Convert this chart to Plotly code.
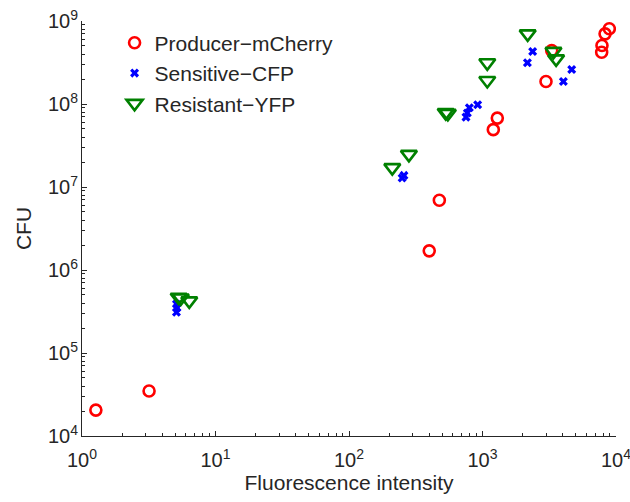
import plotly.graph_objects as go

# Producer-mCherry
prod_x = [1.27, 3.18, 399, 475, 1205, 1291, 2990, 3300, 7810, 7850, 8280, 8910]
prod_y = [2.05e4, 3.48e4, 1.70e6, 6.92e6, 4.91e7, 6.76e7, 1.87e8, 4.4e8, 4.2e8, 5.07e8, 7.0e8, 8.06e8]

# Sensitive-CFP
sens_x = [5.1, 5.15, 5.1, 250, 258, 752, 770, 797, 920, 2170, 2376, 4035, 4660]
sens_y = [3.9e5, 3.5e5, 3.1e5, 1.28e7, 1.38e7, 6.95e7, 7.8e7, 9.0e7, 9.8e7, 3.14e8, 4.3e8, 1.87e8, 2.61e8]

# Resistant-YFP
res_x = [5.3, 5.5, 6.36, 211, 281, 530, 550, 1086, 1086, 2180, 3400, 3560]
res_y = [4.7e5, 4.6e5, 4.25e5, 1.71e7, 2.47e7, 7.9e7, 7.7e7, 1.92e8, 3.14e8, 7.0e8, 4.3e8, 3.5e8]

xtick_vals = [1, 10, 100, 1000, 10000]
xtick_text = ["10<sup>0</sup>", "10<sup>1</sup>", "10<sup>2</sup>", "10<sup>3</sup>", "10<sup>4</sup>"]
ytick_vals = [1e4, 1e5, 1e6, 1e7, 1e8, 1e9]
ytick_text = ["10<sup>4</sup>", "10<sup>5</sup>", "10<sup>6</sup>", "10<sup>7</sup>", "10<sup>8</sup>", "10<sup>9</sup>"]

FONT = "Liberation Sans, Arial, sans-serif"

fig = go.Figure()
fig.add_trace(go.Scatter(
    x=prod_x, y=prod_y, mode="markers", name="Producer\u2212mCherry",
    marker=dict(symbol="circle-open", size=11, color="#ff0000", line=dict(width=2.6, color="#ff0000")),
))
fig.add_trace(go.Scatter(
    x=sens_x, y=sens_y, mode="markers", name="Sensitive\u2212CFP",
    marker=dict(symbol="x", size=8, color="#0000ff", line=dict(width=0)),
))
fig.add_trace(go.Scatter(
    x=res_x, y=res_y, mode="markers", name="Resistant\u2212YFP",
    marker=dict(symbol="triangle-down-open", size=14, color="#008000", line=dict(width=2.6, color="#008000")),
))

axis_common = dict(
    type="log", showgrid=False, zeroline=False, showline=True, linecolor="#262626",
    linewidth=1, ticks="inside", ticklen=5, tickcolor="#262626", mirror=False,
    minor=dict(ticks="inside", ticklen=3, tickcolor="#262626", dtick="D1", showgrid=False),
    tickfont=dict(family=FONT, size=20, color="#262626"),
    ticklabeloverflow="allow", automargin=False,
)

fig.update_layout(
    width=630, height=502,
    margin=dict(l=82, r=14, t=21, b=66),
    paper_bgcolor="white", plot_bgcolor="white",
    font=dict(family=FONT, size=20, color="#262626"),
    xaxis=dict(axis_common, range=[0, 4], tickvals=xtick_vals, ticktext=xtick_text,
               ticklabelstandoff=6,
               title=dict(text="Fluorescence intensity", standoff=0, font=dict(size=21))),
    yaxis=dict(axis_common, range=[4, 9], tickvals=ytick_vals, ticktext=ytick_text,
               ticklabelstandoff=-1,
               title=dict(text="CFU", standoff=10, font=dict(size=21))),
    legend=dict(x=0.061, y=0.996, xanchor="left", yanchor="top", bgcolor="rgba(0,0,0,0)",
                font=dict(size=21), tracegroupgap=0, itemsizing="trace"),
    showlegend=True,
)

fig.write_html("out.html")
